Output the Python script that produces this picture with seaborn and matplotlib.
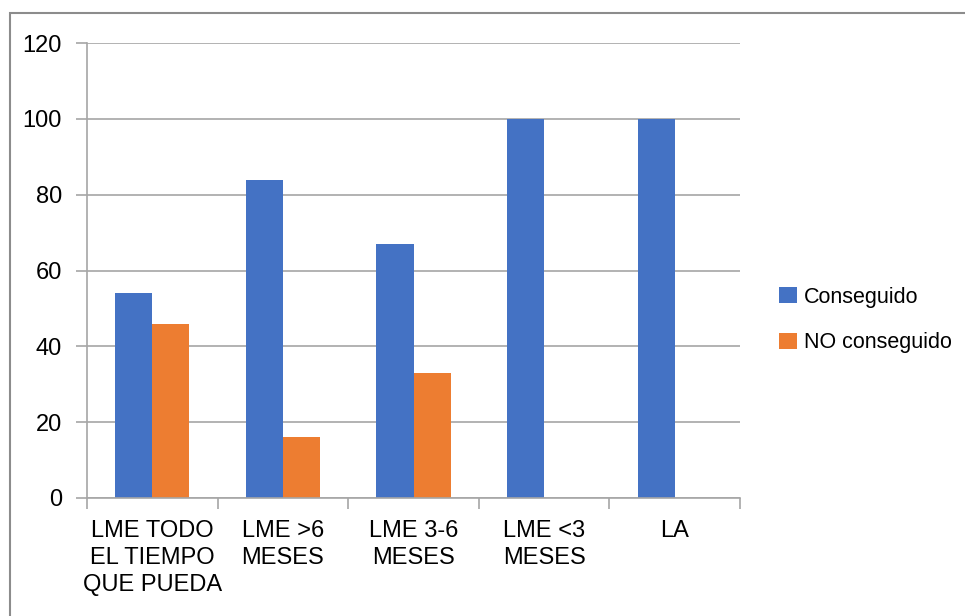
import matplotlib
matplotlib.use("Agg")
import matplotlib.pyplot as plt
import seaborn as sns
import pandas as pd
import numpy as np
from matplotlib.patches import Rectangle

categories = ["LME TODO\nEL TIEMPO\nQUE PUEDA", "LME >6\nMESES", "LME 3-6\nMESES", "LME <3\nMESES", "LA"]
conseguido = [54, 84, 67, 100, 100]
no_conseguido = [46, 16, 33, 0, 0]
series_names = ["Conseguido", "NO conseguido"]
yticks = [0, 20, 40, 60, 80, 100, 120]

df = pd.DataFrame({
    "cat": categories * 2,
    "val": conseguido + no_conseguido,
    "serie": [series_names[0]] * len(categories) + [series_names[1]] * len(categories),
})

sns.set_theme(style="white")
plt.rcParams['font.family'] = ['Liberation Sans Narrow', 'Liberation Sans', 'DejaVu Sans']

fig = plt.figure(figsize=(9.65, 6.16), dpi=100)
ax = fig.add_axes([87/965, 1-498/616, (740-87)/965, (498-43)/616])

sns.barplot(data=df, x="cat", y="val", hue="serie", order=categories,
            hue_order=series_names, palette=["#4472C4", "#ED7D31"],
            width=0.567, saturation=1, linewidth=0, ax=ax, legend=True)

grid_c = "#a6a6a6"
fs = 17
ax.set_ylim(0, 120)
ax.set_yticks(yticks)
ax.set_yticklabels([str(v) for v in yticks], fontsize=fs)
ax.yaxis.grid(True, color=grid_c, linewidth=1.2)
ax.set_axisbelow(True)
ax.set_xlim(-0.5, len(categories) - 0.5)
for s in ["top", "right"]:
    ax.spines[s].set_visible(False)
for s in ["left", "bottom"]:
    ax.spines[s].set_color(grid_c)
    ax.spines[s].set_linewidth(1.2)
ax.tick_params(axis="y", which="major", length=8, color=grid_c, width=1.2, pad=10, left=True)
ax.set_xticks(np.arange(len(categories)))
ax.set_xticklabels(categories, fontsize=fs, linespacing=1.3)
ax.tick_params(axis="x", which="major", length=0, pad=16)
ax.set_xticks(np.arange(len(categories) + 1) - 0.5, minor=True)
ax.tick_params(axis="x", which="minor", length=8, color=grid_c, width=1.2, bottom=True)
ax.set_xlabel("")
ax.set_ylabel("")
for lbl in ax.get_yticklabels() + ax.get_xticklabels():
    lbl.set_color("black")

handles, labels = ax.get_legend_handles_labels()
leg = ax.legend(handles, labels, loc="center left", bbox_to_anchor=(760/965, 1-320/616),
                bbox_transform=fig.transFigure, frameon=False, fontsize=15.5,
                handlelength=0.8, handleheight=0.8, handletextpad=0.35, labelspacing=1.15)
for t in leg.get_texts():
    t.set_color("black")

fig.patches.append(Rectangle((10/965, -0.05), 1.0, 1 - 13/616 + 0.05, transform=fig.transFigure,
                             fill=False, edgecolor="#8c8c8c", linewidth=1.5, zorder=0))

fig.savefig("out.png", dpi=100)
